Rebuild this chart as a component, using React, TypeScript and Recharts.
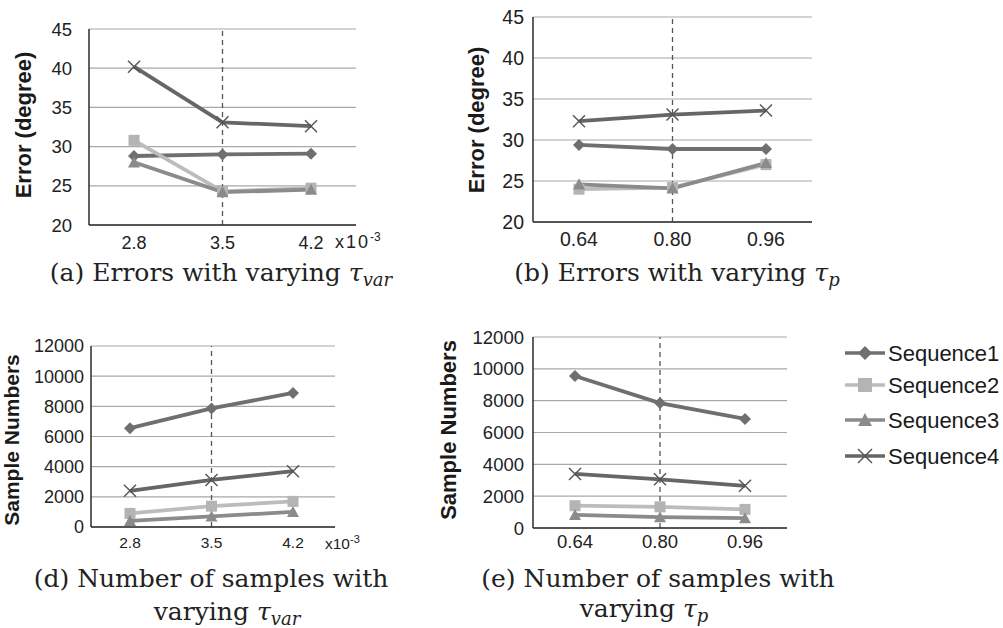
import React from 'react';
import { LineChart, Line, XAxis, YAxis, CartesianGrid, ReferenceLine } from 'recharts';

// categories
const tauVar = ['2.8', '3.5', '4.2'];
const tauP = ['0.64', '0.80', '0.96'];

// (a) errors with varying tau_var
const errVarSeq1 = [28.8, 29.0, 29.1];
const errVarSeq2 = [30.8, 24.3, 24.7];
const errVarSeq3 = [28.0, 24.2, 24.5];
const errVarSeq4 = [40.2, 33.1, 32.6];

// (b) errors with varying tau_p
const errPSeq1 = [29.4, 28.9, 28.9];
const errPSeq2 = [24.0, 24.2, 27.0];
const errPSeq3 = [24.6, 24.1, 27.2];
const errPSeq4 = [32.3, 33.1, 33.6];

// (d) samples with varying tau_var
const smpVarSeq1 = [6550, 7860, 8890];
const smpVarSeq2 = [900, 1380, 1700];
const smpVarSeq3 = [400, 700, 1000];
const smpVarSeq4 = [2400, 3120, 3700];

// (e) samples with varying tau_p
const smpPSeq1 = [9550, 7850, 6850];
const smpPSeq2 = [1400, 1330, 1170];
const smpPSeq3 = [820, 680, 620];
const smpPSeq4 = [3400, 3060, 2650];

const errTicks = [20, 25, 30, 35, 40, 45];
const smpTicks = [0, 2000, 4000, 6000, 8000, 10000, 12000];

const seriesNames = ['Sequence1', 'Sequence2', 'Sequence3', 'Sequence4'];

const SANS = '"Liberation Sans", Arial, sans-serif';
const SERIF = '"DejaVu Serif", serif';

const C1 = '#6f6f6f';
const C2 = '#bcbcbc';
const C3 = '#8b8b8b';
const C4 = '#666666';

type Row = { name: string; s1: number; s2: number; s3: number; s4: number };

const buildRows = (cats: string[], a: number[], b: number[], c: number[], d: number[]): Row[] =>
  cats.map((name, i) => ({ name, s1: a[i], s2: b[i], s3: c[i], s4: d[i] }));

// marker shapes
const diamond = (cx: number, cy: number, r: number, key?: string) => (
  <polygon key={key} points={`${cx},${cy - r} ${cx + r},${cy} ${cx},${cy + r} ${cx - r},${cy}`} fill={C1} />
);
const square = (cx: number, cy: number, r: number, key?: string) => (
  <rect key={key} x={cx - r} y={cy - r} width={r * 2} height={r * 2} fill="#b4b4b4" />
);
const triangle = (cx: number, cy: number, r: number, key?: string) => (
  <polygon key={key} points={`${cx},${cy - r} ${cx + r},${cy + r * 0.85} ${cx - r},${cy + r * 0.85}`} fill={C3} />
);
const cross = (cx: number, cy: number, r: number, key?: string) => (
  <g key={key} stroke="#555" strokeWidth={1.4}>
    <line x1={cx - r} y1={cy - r} x2={cx + r} y2={cy + r} />
    <line x1={cx - r} y1={cy + r} x2={cx + r} y2={cy - r} />
  </g>
);

const dotFor = (shape: typeof diamond, r: number) => (p: any) =>
  p.cx == null ? <g key={`e${p.index}`} /> : shape(p.cx, p.cy, r, `m${p.index}`);

interface Box { x0: number; x1: number; y0: number; y1: number }

interface PanelProps {
  box: Box;
  padL: number;
  padR: number;
  data: Row[];
  domain: [number, number];
  ticks: number[];
  yFont: number;
  yGap: number;
  xFont: number;
  xGap: number;
}

const LEFT = 80;
const TOP = 10;
const RIGHT = 10;
const BOTTOM = 40;

const Panel: React.FC<PanelProps> = ({ box, padL, padR, data, domain, ticks, yFont, yGap, xFont, xGap }) => {
  const pw = box.x1 - box.x0;
  const ph = box.y1 - box.y0;
  return (
    <div style={{ position: 'absolute', left: box.x0 - LEFT, top: box.y0 - TOP }}>
      <LineChart
        width={pw + LEFT + RIGHT}
        height={ph + TOP + BOTTOM}
        data={data}
        margin={{ top: TOP, right: RIGHT, left: 0, bottom: 0 }}
      >
        <CartesianGrid vertical={false} stroke="#a8a8a8" strokeWidth={1.2} />
        <XAxis
          dataKey="name"
          height={BOTTOM}
          padding={{ left: padL, right: padR }}
          interval={0}
          tickLine={false}
          tickSize={0}
          tickMargin={xGap}
          axisLine={{ stroke: '#2b2b2b', strokeWidth: 1.5 }}
          tick={{ fill: '#222', fontSize: xFont, fontFamily: SANS }}
        />
        <YAxis
          width={LEFT}
          type="number"
          domain={domain}
          ticks={ticks}
          interval={0}
          tickLine={false}
          tickSize={0}
          tickMargin={yGap}
          axisLine={{ stroke: '#2b2b2b', strokeWidth: 1.5 }}
          tick={{ fill: '#222', fontSize: yFont, fontFamily: SANS }}
        />
        <ReferenceLine x={data[1].name} stroke="#555" strokeDasharray="5 4" strokeWidth={1.3} />
        <Line dataKey="s1" stroke={C1} strokeWidth={3.8} dot={dotFor(diamond, 6)} isAnimationActive={false} />
        <Line dataKey="s2" stroke={C2} strokeWidth={3.8} dot={dotFor(square, 5.5)} isAnimationActive={false} />
        <Line dataKey="s3" stroke={C3} strokeWidth={3.8} dot={dotFor(triangle, 6)} isAnimationActive={false} />
        <Line dataKey="s4" stroke={C4} strokeWidth={3.8} dot={dotFor(cross, 6)} isAnimationActive={false} />
      </LineChart>
    </div>
  );
};

const Sub: React.FC<{ sub: string }> = ({ sub }) => (
  <>
    <tspan fontStyle="italic">τ</tspan>
    <tspan fontStyle="italic" fontSize={18} dy={5}>{sub}</tspan>
  </>
);

export default function App() {
  const legendRows = [
    { y: 353, shape: diamond, color: C1 },
    { y: 385, shape: square, color: C2 },
    { y: 420, shape: triangle, color: C3 },
    { y: 456, shape: cross, color: C4 },
  ];
  return (
    <div style={{ position: 'absolute', left: 0, top: 0, width: 1003, height: 628, background: '#fff', overflow: 'hidden' }}>
      <Panel
        box={{ x0: 89, x1: 356, y0: 29, y1: 225 }}
        padL={45} padR={45}
        data={buildRows(tauVar, errVarSeq1, errVarSeq2, errVarSeq3, errVarSeq4)}
        domain={[20, 45]} ticks={errTicks}
        yFont={18.5} yGap={17} xFont={18} xGap={11}
      />
      <Panel
        box={{ x0: 533, x1: 812, y0: 17, y1: 222 }}
        padL={46} padR={46}
        data={buildRows(tauP, errPSeq1, errPSeq2, errPSeq3, errPSeq4)}
        domain={[20, 45]} ticks={errTicks}
        yFont={19.5} yGap={9} xFont={19.5} xGap={10}
      />
      <Panel
        box={{ x0: 91, x1: 335, y0: 346, y1: 527 }}
        padL={39} padR={42}
        data={buildRows(tauVar, smpVarSeq1, smpVarSeq2, smpVarSeq3, smpVarSeq4)}
        domain={[0, 12000]} ticks={smpTicks}
        yFont={18} yGap={7} xFont={15.5} xGap={10}
      />
      <Panel
        box={{ x0: 533, x1: 787, y0: 337, y1: 528 }}
        padL={42} padR={42}
        data={buildRows(tauP, smpPSeq1, smpPSeq2, smpPSeq3, smpPSeq4)}
        domain={[0, 12000]} ticks={smpTicks}
        yFont={18.5} yGap={9} xFont={18.5} xGap={7}
      />
      <svg width={1003} height={628} style={{ position: 'absolute', left: 0, top: 0, pointerEvents: 'none' }}>
        {/* axis titles */}
        <g fontFamily={SANS} fontWeight="bold" fill="#1a1a1a" textAnchor="middle" dominantBaseline="central">
          <text fontSize={22} transform="translate(23,125) rotate(-90)">Error (degree)</text>
          <text fontSize={22} transform="translate(476,120) rotate(-90)">Error (degree)</text>
          <text fontSize={21} transform="translate(11,440) rotate(-90)">Sample Numbers</text>
          <text fontSize={22} transform="translate(448,430) rotate(-90)">Sample Numbers</text>
        </g>
        {/* exponent notes */}
        <g fontFamily={SANS} fill="#222">
          <text x={335} y={248} fontSize={18} letterSpacing={2}>
            x10<tspan fontSize={12} dy={-7} letterSpacing={0}>-3</tspan>
          </text>
          <text x={325} y={549} fontSize={15.5}>
            x10<tspan fontSize={11} dy={-6}>-3</tspan>
          </text>
        </g>
        {/* captions */}
        <g fontFamily={SERIF} fontSize={25} fill="#222" textAnchor="middle">
          <text x={221} y={281}>(a) Errors with varying <Sub sub="var" /></text>
          <text x={677} y={281}>(b) Errors with varying <Sub sub="p" /></text>
          <text x={211} y={587}>(d) Number of samples with</text>
          <text x={227} y={620}>varying <Sub sub="var" /></text>
          <text x={658} y={587}>(e) Number of samples with</text>
          <text x={644} y={617}>varying <Sub sub="p" /></text>
        </g>
        {/* legend */}
        {legendRows.map((r, i) => (
          <g key={seriesNames[i]}>
            <line x1={845} x2={885} y1={r.y} y2={r.y} stroke={r.color} strokeWidth={3.5} />
            {r.shape(865, r.y, 7)}
            <text x={888} y={r.y} fontFamily={SANS} fontSize={22} fill="#1a1a1a" dominantBaseline="central">
              {seriesNames[i]}
            </text>
          </g>
        ))}
      </svg>
    </div>
  );
}
